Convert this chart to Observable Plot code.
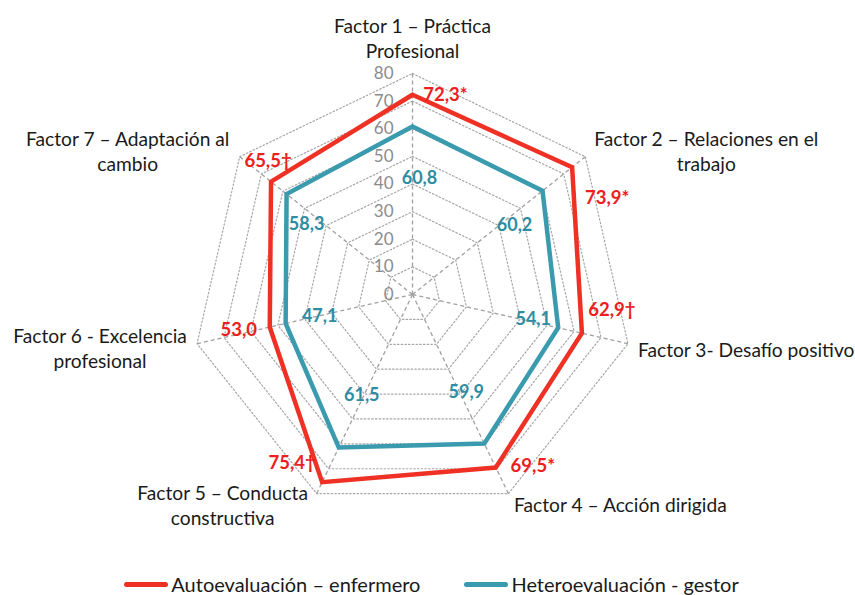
<!DOCTYPE html>
<html>
<head>
<meta charset="utf-8">
<script src="https://cdn.jsdelivr.net/npm/d3@7"></script>
<script src="https://cdn.jsdelivr.net/npm/@observablehq/plot@0.6"></script>
<style>
  html, body { margin: 0; padding: 0; background: #fff; }
  body { width: 855px; height: 595px; overflow: hidden; font-family: Lato, "Open Sans", sans-serif; }
  #legend { display: flex; justify-content: center; gap: 44px; margin-left: 8px; font-size: 20px; color: #1a1a1a; height: 38px; align-items: center; }
  .item { display: flex; align-items: center; }
  .sw { display: inline-block; width: 44px; height: 5px; border-radius: 2.5px; margin-right: 3px; }
</style>
</head>
<body>
<div id="chart"></div>
<div id="legend"></div>
<script>
const factors = [
  "Factor 1 – Práctica\nProfesional",
  "Factor 2 – Relaciones en el\ntrabajo",
  "Factor 3- Desafío positivo",
  "Factor 4 – Acción dirigida",
  "Factor 5 – Conducta\nconstructiva",
  "Factor 6 - Excelencia\nprofesional",
  "Factor 7 – Adaptación al\ncambio"
];
const autoValues = [72.3, 73.9, 62.9, 69.5, 75.4, 53.0, 65.5];
const autoMarks = ["*", "*", "†", "*", "†", "", "†"];
const heteroValues = [60.8, 60.2, 54.1, 59.9, 61.5, 47.1, 58.3];
const ticks = [0, 10, 20, 30, 40, 50, 60, 70, 80];
const seriesNames = ["Autoevaluación – enfermero", "Heteroevaluación - gestor"];
const colors = ["#ee3124", "#3a9aae"];
const textColors = ["#ec2020", "#2f8ca2"];

const n = factors.length;
const ang = i => i * 2 * Math.PI / n;
const px = (v, i) => v * Math.sin(ang(i));
const py = (v, i) => v * Math.cos(ang(i));
const fmt = v => v.toFixed(1).replace(".", ",");

// grid polygons
const gridRows = [];
ticks.filter(t => t > 0).forEach(t => {
  for (let i = 0; i <= n; i++) gridRows.push({level: t, x: px(t, i % n), y: py(t, i % n)});
});
const spokes = factors.map((f, i) => ({x1: 0, y1: 0, x2: px(80, i), y2: py(80, i)}));

const series = [autoValues, heteroValues].map((vals, s) =>
  vals.concat([vals[0]]).map((v, i) => ({s, x: px(v, i % n), y: py(v, i % n)})));

// label offsets (layout, pixels)
const catOff = [[0, -36], [121, -6], [10, 5], [112, 10], [-94, 11], [-97, 4], [-112, -6]];
const catAnchor = ["middle", "middle", "start", "middle", "middle", "middle", "middle"];
const redOff = [[33, 0], [35, 31], [30, -23], [37, -1], [-30, -19], [-31, 3], [-3, -21]];
const blueOff = [[7, 52], [-28, 34], [-25, -9], [-18, -51], [23, -52], [34, -7], [20, 30]];

const catRows = factors.map((f, i) => ({label: f, x: px(80, i), y: py(80, i), i}));
const redRows = autoValues.map((v, i) => ({label: fmt(v) + autoMarks[i], x: px(v, i), y: py(v, i), i}));
const blueRows = heteroValues.map((v, i) => ({label: fmt(v), x: px(v, i), y: py(v, i), i}));

const marks = [
  Plot.line(gridRows, {x: "x", y: "y", z: "level", stroke: "#a6a6a6", strokeWidth: 1.2, strokeDasharray: "1.5,2.2"}),
  Plot.link(spokes, {x1: "x1", y1: "y1", x2: "x2", y2: "y2", stroke: "#a0a0a0", strokeWidth: 1.3, strokeDasharray: "4,3"}),
  Plot.text(ticks, {x: 0, y: d => d, text: d => String(d), textAnchor: "end", dx: -19, fill: "#8c8c8c", fontSize: 17}),
  ...series.map((rows, s) => Plot.line(rows, {x: "x", y: "y", stroke: colors[s], strokeWidth: 4.5, strokeLinejoin: "miter", strokeMiterlimit: 10})),
];
catRows.forEach(r => marks.push(Plot.text([r], {x: "x", y: "y", text: "label", dx: catOff[r.i][0], dy: catOff[r.i][1], textAnchor: catAnchor[r.i], lineAnchor: "middle", lineHeight: 1.3, fill: "#1a1a1a", fontSize: 19.2})));
redRows.forEach(r => marks.push(Plot.text([r], {x: "x", y: "y", text: "label", dx: redOff[r.i][0], dy: redOff[r.i][1], fill: textColors[0], fontSize: 18.5, fontWeight: "bold"})));
blueRows.forEach(r => marks.push(Plot.text([r], {x: "x", y: "y", text: "label", dx: blueOff[r.i][0], dy: blueOff[r.i][1], fill: textColors[1], fontSize: 18, fontWeight: "bold"})));

const chart = Plot.plot({
  width: 855,
  height: 565,
  margin: 0,
  style: {fontFamily: "Lato, 'Open Sans', sans-serif", background: "#fff"},
  x: {domain: [-80, 80], range: [191, 633], axis: null},
  y: {domain: [-80, 80], range: [515, 73], axis: null},
  marks
});
document.getElementById("chart").appendChild(chart);

const legend = document.getElementById("legend");
seriesNames.forEach((name, s) => {
  const it = document.createElement("div");
  it.className = "item";
  const sw = document.createElement("span");
  sw.className = "sw";
  sw.style.background = colors[s];
  it.appendChild(sw);
  it.appendChild(document.createTextNode(name));
  legend.appendChild(it);
});
</script>
</body>
</html>
